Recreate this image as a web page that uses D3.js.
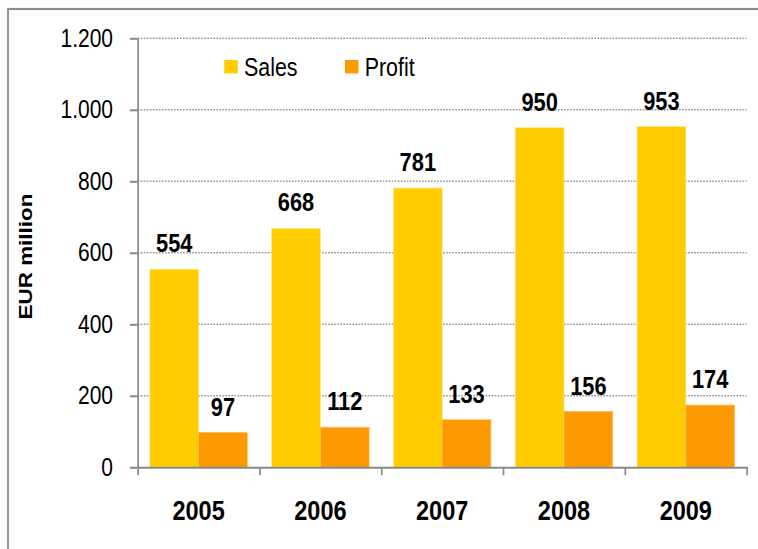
<!DOCTYPE html>
<html>
<head>
<meta charset="utf-8">
<script src="https://cdn.jsdelivr.net/npm/d3@7"></script>
<style>
  body { margin: 0; background: #fff; }
  text { font-family: "Liberation Sans", Arial, sans-serif; fill: #000; }
</style>
</head>
<body>
<div id="chart"></div>
<script>
// data
var years = ["2005", "2006", "2007", "2008", "2009"];
var seriesNames = ["Sales", "Profit"];
var sales = [554, 668, 781, 950, 953];
var profit = [97, 112, 133, 156, 174];
var yTicks = [0, 200, 400, 600, 800, 1000, 1200];
var colors = ["#ffcc00", "#ff9900"];
var edges = ["#ffe680", "#ffbb55"];

var svgWidth = 758;
var svgHeight = 549;

// the original picture is squeezed horizontally, so draw in a wider
// viewBox and let the svg compress it
var sx = 0.84;
var px = function(v) { return v / sx; };

var plot = { left: 137.7, right: 746.7, top: 38.3, bottom: 467.3 };

var svg = d3.select("#chart")
  .append("svg")
  .attr("width", svgWidth)
  .attr("height", svgHeight)
  .attr("viewBox", `0 0 ${svgWidth / sx} ${svgHeight}`)
  .attr("preserveAspectRatio", "none");

// frame
svg.append("rect")
  .attr("x", px(8))
  .attr("y", 9)
  .attr("width", px(800))
  .attr("height", 600)
  .attr("fill", "none")
  .attr("stroke", "#8c8c8c")
  .attr("stroke-width", 2.2);

// scales
var x0 = d3.scaleBand()
  .domain(years)
  .range([px(plot.left), px(plot.right)])
  .paddingInner(0.2)
  .paddingOuter(0.1);

var x1 = d3.scaleBand()
  .domain(seriesNames)
  .range([0, x0.bandwidth()]);

var y = d3.scaleLinear()
  .domain([0, 1200])
  .range([plot.bottom, plot.top]);

var xBound = d3.scaleLinear()
  .domain([0, years.length])
  .range(x0.range());

var locale = d3.formatLocale({ decimal: ",", thousands: ".", grouping: [3], currency: ["", "€"] });
var fmt = locale.format(",");

// gridlines
svg.append("g")
  .selectAll("line")
  .data(yTicks.filter(d => d > 0))
  .enter()
  .append("line")
  .attr("x1", px(plot.left))
  .attr("x2", px(plot.right))
  .attr("y1", d => y(d))
  .attr("y2", d => y(d))
  .attr("stroke", "#999")
  .attr("stroke-width", 1.6)
  .attr("stroke-dasharray", "2,1.6");

// bars
var groups = svg.append("g")
  .selectAll("g")
  .data(years)
  .enter()
  .append("g")
  .attr("transform", d => `translate(${x0(d)},0)`);

var rows = function(i) {
  return [{ key: "Sales", value: sales[i], c: 0 }, { key: "Profit", value: profit[i], c: 1 }];
};

groups.selectAll("rect")
  .data((d, i) => rows(i))
  .enter()
  .append("rect")
  .attr("x", d => x1(d.key))
  .attr("y", d => y(d.value))
  .attr("width", x1.bandwidth())
  .attr("height", d => y(0) - y(d.value))
  .attr("fill", d => colors[d.c])
  .attr("stroke", d => edges[d.c])
  .attr("stroke-width", 0.8);

groups.selectAll("text")
  .data((d, i) => rows(i))
  .enter()
  .append("text")
  .attr("x", d => x1(d.key) + x1.bandwidth() / 2)
  .attr("y", d => y(d.value) - 17)
  .attr("text-anchor", "middle")
  .style("font-size", "26px")
  .style("font-weight", "bold")
  .text(d => d.value);

// y axis
var leftAxis = d3.axisLeft(y)
  .tickValues(yTicks)
  .tickFormat(fmt)
  .tickSize(px(7.7))
  .tickSizeOuter(0)
  .tickPadding(px(17));

var yG = svg.append("g")
  .attr("transform", `translate(${px(plot.left)},0)`)
  .call(leftAxis);

// x axis, ticks sit on the category boundaries
var bottomAxis = d3.axisBottom(xBound)
  .tickValues(d3.range(years.length + 1))
  .tickFormat("")
  .tickSize(8)
  .tickSizeOuter(0);

var xG = svg.append("g")
  .attr("transform", `translate(0,${plot.bottom})`)
  .call(bottomAxis);

[yG, xG].forEach(function(g) {
  g.selectAll("path, line").attr("stroke", "#888").attr("stroke-width", 2);
});
yG.selectAll("text")
  .style("font-size", "25px")
  .style("font-family", "'Liberation Sans', Arial, sans-serif")
  .attr("fill", "#000");

svg.append("g")
  .selectAll("text")
  .data(years)
  .enter()
  .append("text")
  .attr("x", d => x0(d) + x0.bandwidth() / 2)
  .attr("y", 520)
  .attr("text-anchor", "middle")
  .style("font-size", "28px")
  .style("font-weight", "bold")
  .text(d => d);

// y axis title
svg.append("text")
  .attr("transform", `translate(${px(32)},256.5) rotate(-90)`)
  .attr("text-anchor", "middle")
  .style("font-size", "22.5px")
  .style("font-weight", "bold")
  .text("EUR million");

// legend
var legendX = [224.3, 345];
var legend = svg.append("g")
  .selectAll("g")
  .data(seriesNames)
  .enter()
  .append("g")
  .attr("transform", (d, i) => `translate(${px(legendX[i])},60)`);

legend.append("rect")
  .attr("width", px(13.4))
  .attr("height", 13.4)
  .attr("fill", (d, i) => colors[i]);

legend.append("text")
  .attr("x", px(19.7))
  .attr("y", 15.8)
  .style("font-size", "25.5px")
  .text(d => d);
</script>
</body>
</html>
